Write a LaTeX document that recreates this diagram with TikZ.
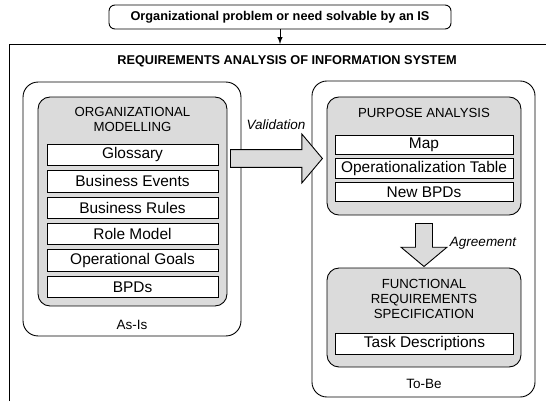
\documentclass[tikz,border=0pt]{standalone}
\usepackage{fontspec}
\setmainfont{Liberation Sans}
\usetikzlibrary{shapes, arrows, positioning}
\newcommand{\tb}{\textbf}
\definecolor{gray86}{gray}{0.86}

\begin{document}
\begin{tikzpicture}[x=0.6667pt, y=-0.6667pt,
  basic/.style   = {draw, line width=0.6pt, rectangle, inner sep=0pt, align=center},
  outer/.style   = {basic, rounded corners=10pt},
  group/.style   = {basic, fill=gray86, rounded corners=8pt},
  item/.style    = {basic, fill=white, font=\fontsize{10.3}{12}\selectfont},
  head/.style    = {inner sep=0pt, align=center, font=\fontsize{8.8}{10.3}\selectfont},
  note/.style    = {inner sep=0pt, font=\fontsize{9}{11}\selectfont},
  flow/.style    = {single arrow, draw, line width=0.6pt, fill=gray86, inner sep=0pt, anchor=tail},
  >=latex]

\useasboundingbox (0,0) rectangle (546,401);

% the problem on top and the frame of the analysis below it
\node[basic, rounded corners=4pt, minimum width=228pt, minimum height=16pt,
      font=\fontsize{8.5}{10}\selectfont] (problem) at (280,17)
      {\tb{Organizational problem or need solvable by an IS}};
\draw[line width=0.6pt] (9,401) -- (9,44) -- (546,44);
\coordinate (ftop) at (280,44);
\draw[->, line width=0.6pt] (problem) -- (ftop);
\node[inner sep=0pt, font=\fontsize{8.5}{10}\selectfont] (title) at (287,61)
      {\tb{REQUIREMENTS ANALYSIS OF INFORMATION SYSTEM}};

% As-Is side
\node[outer, minimum width=145.3pt, minimum height=169.3pt] (asis) at (132,209) {};
\node[group, minimum width=126pt, minimum height=139.3pt] (org) at (132.5,201.5) {};
\node[head] (orghead) at (132.5,119.5) {ORGANIZATIONAL\\MODELLING};
\node[note] (asislbl) at (132,325) {As-Is};

% To-Be side
\node[outer, minimum width=148.7pt, minimum height=210.7pt] (tobe) at (423.5,239) {};
\node[group, minimum width=129.3pt, minimum height=78.7pt] (purp) at (424,156) {};
\node[head] (purphead) at (424,113) {PURPOSE ANALYSIS};
\node[group, minimum width=129.3pt, minimum height=66pt] (func) at (424,317.5) {};
\node[head] (funchead) at (424,299) {FUNCTIONAL\\REQUIREMENTS\\SPECIFICATION};
\node[note] (tobelbl) at (424,384) {To-Be};

% the artefacts, stacked below one another
\begin{scope}[every node/.style={item, minimum width=114pt, minimum height=14.3pt}, node distance=2.7pt]
\node (o1) at (132.5,155) {Glossary};
\node [below=of o1] (o2) {Business Events};
\node [below=of o2] (o3) {Business Rules};
\node [below=of o3] (o4) {Role Model};
\node [below=of o4] (o5) {Operational Goals};
\node [below=of o5] (o6) {BPDs};
\end{scope}

\begin{scope}[every node/.style={item, minimum width=118.7pt, minimum height=13pt}, node distance=2pt]
\node (p1) at (424,145) {Map};
\node [below=of p1] (p2) {Operationalization Table};
\node [below=of p2] (p3) {New BPDs};
\end{scope}

\node[item, minimum width=118.7pt, minimum height=14pt] (f1) at (424.5,343.5) {Task Descriptions};

% block arrows between the groups
\node[flow, minimum height=61.3pt, inner ysep=5.65pt, single arrow head extend=10.35pt,
      single arrow tip angle=100] (valid) at (230,158.5) {};
\node[note, font=\itshape\fontsize{9}{11}\selectfont] (validlbl) at (276,125) {Validation};
\node[flow, shape border rotate=270, minimum height=28.7pt, inner xsep=5.35pt,
      single arrow head extend=9.65pt, single arrow tip angle=100] (agree) at (424,223) {};
\node[note, font=\itshape\fontsize{9}{11}\selectfont] (agreelbl) at (483,243) {Agreement};

\end{tikzpicture}
\end{document}
